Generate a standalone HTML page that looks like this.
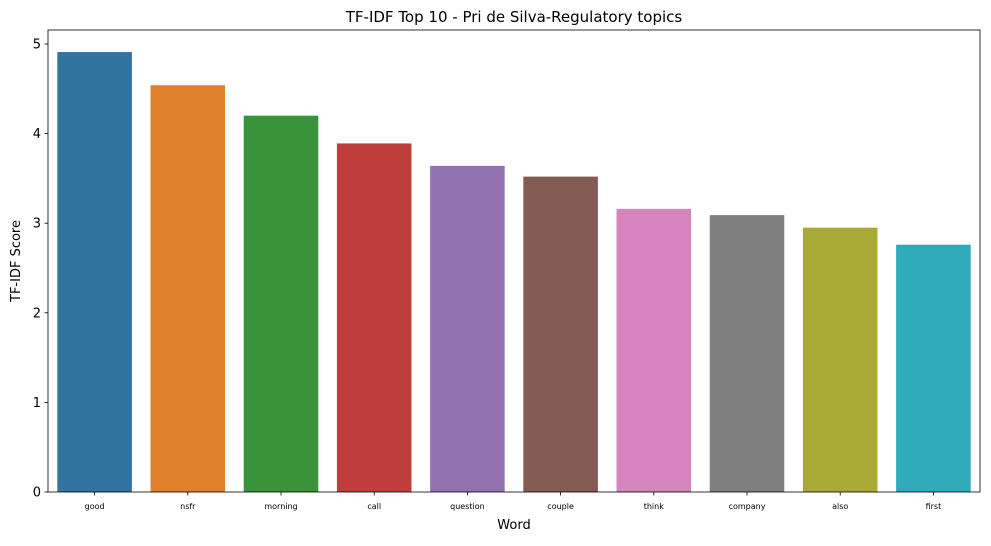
<!DOCTYPE html>
<html><head><meta charset="utf-8"><style>
body{margin:0;background:#fff;font-family:"Liberation Sans","DejaVu Sans",sans-serif}
svg text{font-family:"DejaVu Sans","Liberation Sans",sans-serif}
</style></head><body>
<svg id="chart" width="991" height="541" viewBox="0 0 991 541"></svg>
<script>
const categories=["good","nsfr","morning","call","question","couple","think","company","also","first"];
const scores=[4.91,4.54,4.20,3.89,3.64,3.52,3.16,3.09,2.95,2.76];
const yTicks=[0,1,2,3,4,5];
const colors=["#3274a1","#e1812c","#3a923a","#c03d3e","#9372b2","#845b53","#d684bd","#7f7f7f","#a9aa35","#2eaab8"];
const L=48,R=980,T=30,B=492,ymax=5.156;
const ns="http://www.w3.org/2000/svg";
const svg=document.getElementById('chart');
const yS=v=>B-(B-T)*v/ymax;
const step=(R-L)/categories.length;
const xS=i=>L+step*i+step/2;
function mk(t,a,p){const e=document.createElementNS(ns,t);for(const k in a)e.setAttribute(k,a[k]);(p||svg).appendChild(e);return e;}
categories.forEach((c,i)=>{
  const w=step*0.8;
  const r=mk('rect',{x:xS(i)-w/2,y:yS(scores[i]),width:w,height:B-yS(scores[i]),fill:colors[i]});
  
  
  mk('line',{x1:xS(i),x2:xS(i),y1:B,y2:B+3.5,stroke:'#000','stroke-width':0.8});
  const t=mk('text',{x:xS(i),y:B+17,'font-size':8,'text-anchor':'middle'});t.textContent=c;
  
  
});
yTicks.forEach(v=>{
  mk('line',{x1:L-3.5,x2:L,y1:yS(v),y2:yS(v),stroke:'#000','stroke-width':0.8});
  const t=mk('text',{x:L-7,y:yS(v)+4.5,'font-size':13,'text-anchor':'end'});t.textContent=v;
  
  
});
const fr=mk('rect',{x:L,y:T,width:R-L,height:B-T,fill:'none',stroke:'#000','stroke-width':0.8});


const ti=mk('text',{x:(L+R)/2,y:T-8,'font-size':15,'text-anchor':'middle'});ti.textContent="TF-IDF Top 10 - Pri de Silva-Regulatory topics";


const xt=mk('text',{x:(L+R)/2,y:529,'font-size':13,'text-anchor':'middle'});xt.textContent="Word";


const yt=mk('text',{x:0,y:0,'font-size':13,'text-anchor':'middle',transform:'translate(20,'+((T+B)/2)+') rotate(-90)'});yt.textContent="TF-IDF Score";


</script>
</body></html>
